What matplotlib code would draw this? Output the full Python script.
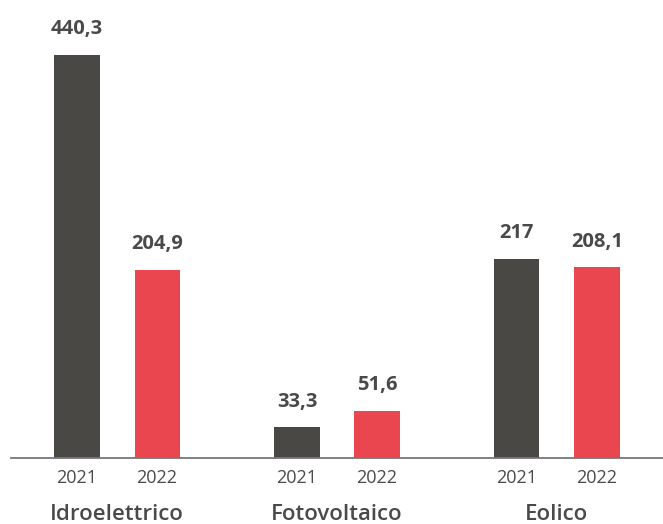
import matplotlib.pyplot as plt
import numpy as np

categories = ["Idroelettrico", "Fotovoltaico", "Eolico"]
years = ["2021", "2022"]
values_2021 = [440.3, 33.3, 217]
values_2022 = [204.9, 51.6, 208.1]

c_2021 = "#4a4845"
c_2022 = "#e9464f"
txt = "#4a4a4a"

plt.rcParams["font.family"] = ["Open Sans", "DejaVu Sans"]

fig = plt.figure(figsize=(6.63, 5.24), dpi=100)
ax = fig.add_axes([11 / 663, 66 / 524, 652 / 663, 458 / 524])

x = np.arange(len(categories))
off = 0.182
w = 0.205

def fmt(v):
    s = f"{v:g}"
    return s.replace(".", ",")

for vals, sign, col in [(values_2021, -1, c_2021), (values_2022, 1, c_2022)]:
    bars = ax.bar(x + sign * off, vals, width=w, color=col)
    for b, v in zip(bars, vals):
        ax.annotate(fmt(v), (b.get_x() + b.get_width() / 2, v),
                    xytext=(0, 15), textcoords="offset points",
                    ha="center", va="baseline", fontsize=14.5, fontweight="bold", color=txt)

ax.set_xlim(-0.482, 2.482)
ax.set_ylim(0, 500)
for s in ["top", "right", "left"]:
    ax.spines[s].set_visible(False)
ax.spines["bottom"].set_color("#777777")
ax.spines["bottom"].set_linewidth(1.3)
ax.set_yticks([])

ticks = []
labels = []
for i in x:
    ticks += [i - off, i + off]
    labels += years
ax.set_xticks(ticks)
ax.set_xticklabels(labels, fontsize=13, color=txt)
ax.tick_params(axis="x", length=0, pad=8)

for i, c in zip(x, categories):
    ax.annotate(c, (i, 0), xytext=(0, -44.5), textcoords="offset points",
                ha="center", va="baseline", fontsize=16, fontweight="semibold",
                color=txt, annotation_clip=False)

fig.savefig("out.png", dpi=100)
